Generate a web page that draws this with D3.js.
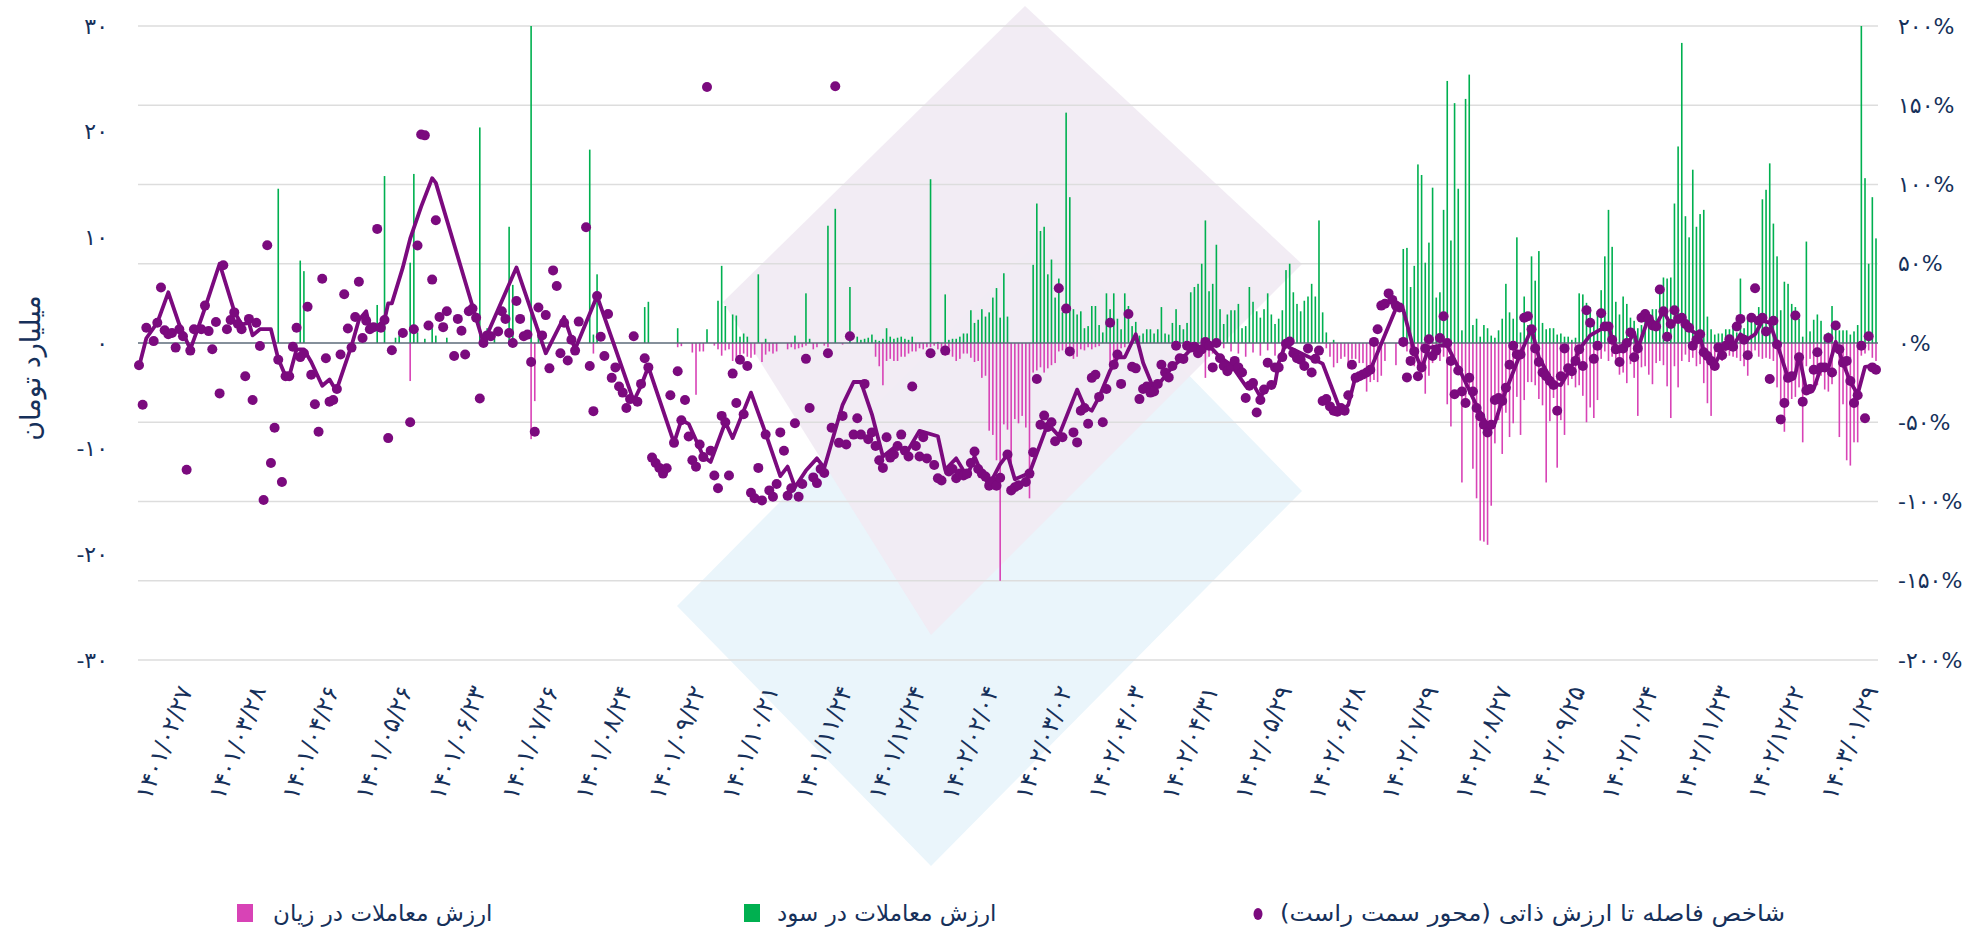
<!DOCTYPE html>
<html><head><meta charset="utf-8">
<script src="https://cdn.jsdelivr.net/npm/d3@7"></script>
<style>
html,body{margin:0;padding:0;background:#fff;}
svg{display:block;font-family:'DejaVu Sans',sans-serif;}
</style></head><body>
<svg id="chart" width="1973" height="928"></svg>
<script>
// ---------- DATA ----------
const xLabels = ["۱۴۰۱/۰۲/۲۷","۱۴۰۱/۰۳/۲۸","۱۴۰۱/۰۴/۲۶","۱۴۰۱/۰۵/۲۶","۱۴۰۱/۰۶/۲۳","۱۴۰۱/۰۷/۲۶","۱۴۰۱/۰۸/۲۴","۱۴۰۱/۰۹/۲۲","۱۴۰۱/۱۰/۲۱","۱۴۰۱/۱۱/۲۴","۱۴۰۱/۱۲/۲۴","۱۴۰۲/۰۲/۰۴","۱۴۰۲/۰۳/۰۲","۱۴۰۲/۰۴/۰۳","۱۴۰۲/۰۴/۳۱","۱۴۰۲/۰۵/۲۹","۱۴۰۲/۰۶/۲۸","۱۴۰۲/۰۷/۲۹","۱۴۰۲/۰۸/۲۷","۱۴۰۲/۰۹/۲۵","۱۴۰۲/۱۰/۲۴","۱۴۰۲/۱۱/۲۳","۱۴۰۲/۱۲/۲۲","۱۴۰۳/۰۱/۲۹"];
const xLabelDays = [13,33,53,73,93,113,133,153,173,193,213,233,253,273,293,313,333,353,373,393,413,433,453,473];
const dayCount = 475;

const leftTicks = [-30,-20,-10,0,10,20,30];
const leftTickLabels = ["-۳۰","-۲۰","-۱۰","۰","۱۰","۲۰","۳۰"];
const rightTicks = [-200,-150,-100,-50,0,50,100,150,200];
const rightTickLabels = ["-۲۰۰%","-۱۵۰%","-۱۰۰%","-۵۰%","۰%","۵۰%","۱۰۰%","۱۵۰%","۲۰۰%"];

const axisTitle = "میلیارد تومان";
const legendLoss = "ارزش معاملات در زیان";
const legendGain = "ارزش معاملات در سود";
const legendIndex = "شاخص فاصله تا ارزش ذاتی (محور سمت راست)";

// profit-side trade value (billion toman), sparse by trading day
const gainDays = [38,44,45,65,67,70,71,74,75,76,78,80,81,84,93,95,97,101,102,107,109,123,124,125,138,139,147,155,
158,159,160,162,163,164,165,166,169,171,179,182,183,188,190,194,196,197,198,199,200,201,202,203,204,205,206,207,208,209,210,211,216,218,220,221,222,223,224,225,226,227,228,229,230,231,232,233,234,
235,236,237,244,245,246,247,248,249,250,251,252,253,254,255,256,257,258,259,260,261,262,263,264,265,266,267,268,269,270,271,272,273,274,275,276,277,278,279,280,281,282,283,284,285,286,287,288,289,290,291,292,293,294,295,296,297,298,299,300,301,302,303,304,305,306,307,308,309,310,311,312,313,314,
315,316,317,318,319,320,321,322,323,324,326,345,346,347,348,349,350,351,352,353,354,355,356,357,358,359,360,361,362,363,364,365,366,367,368,369,370,371,372,373,374,375,376,377,378,379,380,381,382,383,384,385,386,387,388,389,390,391,392,393,
394,395,396,397,398,399,400,401,402,403,404,405,406,407,408,409,410,411,412,413,414,415,416,417,418,419,420,421,422,423,424,425,426,427,428,429,430,431,432,433,434,435,436,437,438,439,440,441,442,443,444,445,446,447,448,449,450,451,452,453,454,455,456,457,458,459,460,461,462,463,464,465,466,467,468,469,470,471,472,473,474];
const gainValues = [14.6,7.8,6.8,3.6,15.8,0.5,0.7,7.6,16,1,0.4,1.4,0.7,0.5,20.4,1.4,0.4,11,5.5,30,1.4,18.3,0.8,6.5,3.4,3.9,1.4,1.3,
4,7.3,3.5,2.7,2.6,0.6,0.9,0.6,6.5,0.4,0.7,4.7,0.4,11.1,12.7,5.3,0.6,0.3,0.4,0.5,0.8,0.3,0.2,0.4,1.4,0.6,0.4,0.5,0.6,0.4,0.3,0.6,15.5,0.1,4.6,0.3,0.4,0.4,0.6,0.9,0.9,3.1,1.9,2.2,3.2,2.5,2.9,4.3,5.2,
2.4,6.6,2.5,7.4,13.2,10.6,11,6.5,7.9,4.3,6.1,2.9,21.8,13.8,3.2,2.7,3,1.4,1.6,3.5,3.5,1.7,1,4.7,3.2,4.7,2.3,1.3,4.7,3.5,1.6,2,0.7,0.9,1.3,1.3,0.9,1.3,3.4,0.9,0.8,1.9,3.2,1.7,1.3,1.9,4.8,5.3,5.6,7.5,11.6,4.9,5.6,9.3,3.2,1.8,2.7,3.1,3.1,3.7,1.4,1.6,5.3,3.9,3,2.4,3.2,4.7,2.7,1.8,2.3,3.1,6.9,7.5,
4.8,3.7,3,4,4.4,5.6,4.4,11.6,2.9,1,0.3,8.9,9,5.3,7.3,16.9,15.9,7.6,9.5,14.7,4.3,4.8,12.6,24.8,9.7,22.7,14.6,1.2,23.1,25.4,1.7,2.3,0.6,1.7,1.4,0.7,0.5,1.2,2.3,5.6,2.9,2.3,10,1,4.4,1.7,8.2,5.9,8.7,1.9,1.3,1.4,1.4,0.8,0.9,0.6,0.6,0.3,0.5,4.7,
4.6,3.8,3.4,1.7,3,5,8.2,12.6,9.1,3.9,2.7,4.4,3.7,2.4,2.1,1.4,1.7,2.5,2.9,3.2,3.2,4.8,6.2,6.1,6.2,13.2,18.6,28.4,12,10,16.4,11,12.2,12.6,2.5,1.3,0.8,0.9,0.9,1.3,1.3,1.6,1,6.1,1.4,2.4,2,2.1,3.4,13.6,14.5,17,11.3,8.2,3.1,5.8,5.6,3.7,3.4,2.3,0.6,9.6,1.1,2.2,2.7,2.1,0.8,1,3.5,1.3,1.2,1.2,1.2,0.8,1.1,1.7,30,15.6,7.5,13.8,9.9];

// loss-side trade value (billion toman, magnitude), sparse by trading day
const lossDays = [74,107,108,124,147,148,151,152,153,154,
157,158,159,160,161,162,163,164,165,166,167,168,170,171,172,173,174,177,178,179,180,181,182,184,185,187,188,192,201,202,203,204,205,206,207,208,209,210,211,212,213,214,215,216,217,218,219,220,221,222,223,224,225,226,227,228,229,230,231,232,233,234,
235,236,237,238,239,240,241,242,243,244,245,246,247,248,249,250,251,252,253,254,255,256,257,258,259,260,261,262,265,266,267,268,269,288,289,291,292,293,296,298,300,302,304,306,308,310,312,314,
324,325,326,327,328,329,330,331,332,333,334,335,336,337,338,339,340,343,345,346,347,348,349,350,351,352,353,354,355,356,357,358,359,360,361,362,363,364,365,366,367,368,369,370,371,372,373,374,375,376,377,378,379,380,381,382,383,384,385,386,387,388,389,390,391,392,393,
394,395,396,397,398,399,400,401,402,403,404,405,406,407,408,409,410,411,412,413,414,415,416,417,418,419,420,421,422,423,424,425,426,427,428,429,430,431,432,433,434,435,436,437,438,439,440,441,442,443,444,445,446,447,448,449,450,451,452,453,454,455,456,457,458,459,460,461,462,463,464,465,466,467,468,469,470,471,472,473,474];
const lossValues = [3.6,9.1,5.5,1,0.4,0.3,0.9,4.9,0.8,0.8,
0.25,0.6,1.2,0.7,0.6,1.7,1.3,1.1,1,1.3,1.4,1.1,1.8,1.1,0.8,1,0.8,0.6,0.4,0.6,0.5,0.4,0.25,0.6,0.4,0.25,0.4,0.15,1.3,2.2,4,1.7,1.5,1.7,1.7,1.3,1.3,1,0.8,0.8,0.5,0.6,0.4,0.4,0.25,0.6,0.8,1.2,1.1,1.3,1.7,1.5,1,1,1.4,1.8,1.7,3.3,3.1,8.3,8.7,11.1,
22.5,7.7,8.2,11.6,7.2,7.6,6.9,8,14.7,2.8,2.6,2.3,2.8,2.4,2.1,1.9,0.8,0.7,0.6,0.8,1.5,1.3,0.6,0.7,0.4,0.6,0.4,0.3,2.1,1.7,1.1,0.5,0.4,1.1,1,3.3,1.3,1,0.5,0.8,1,1.3,0.9,1.2,0.7,1.2,0.8,0.5,
0.5,1.3,2.3,1.9,1.5,1.3,2.4,1.5,1.5,1.9,1.9,4.6,3.7,3.5,3.7,3.1,1.7,2.1,0.4,0.8,1,2.2,2.4,2.8,4.8,3.1,1.9,1.3,1.7,1.3,5.8,7.9,1.3,2.1,13.2,5.8,4.9,11.9,14.7,18.7,18.8,19.1,15.4,9.5,7.3,10.5,6.6,8.9,7.6,5.1,8.7,5.4,3.7,3.7,4,5.3,5.9,13.2,7.4,5.2,11.8,7.3,8.7,4,3.4,4.2,4,
5,7.5,6.1,7.1,5.4,1.5,0.8,1.7,1.3,1.5,3,2.8,3.8,2,3.3,6.9,2.3,2.2,3,3.9,1.9,1.7,2.1,4.1,7.1,2.2,4.2,1.7,1.1,1.8,1.4,2.2,2,3.8,5.7,6.9,2.2,1.5,1.7,0.8,1.2,1.3,1.4,1.7,2.2,3.1,1,0.7,1.3,1.5,1.4,1.5,1.7,4.2,5.5,8.4,5.9,5.3,5.1,4.2,9.4,2.2,1.5,4,4,3.1,4.4,4.6,3.9,0.8,8.9,5.8,11.1,11.6,9.4,9.4,1.2,1,0.7,1.4,1.7];

// distance-to-intrinsic-value index (%), one value per trading day (null = not read)
const indexValues = [
-14,-39,9.6,null,1.2,12.8,35,8,5.5,6.3,-2.9,8.7,4.3,-80,-4.8,8.7,null,8.7,23.6,7.5,
-3.9,13.3,-31.8,49,8.7,14.5,19.3,12,8.7,-21,15.2,-36,12.8,-1.9,-99,61.7,-75.7,-53.5,-10.6,-87.7,
-21,-21,-2.4,9.6,-8.9,-6.5,22.9,-20,-38.6,-56,40.5,-9.6,-37,-36,-29,-7.2,30.8,9.2,-2.9,16.4,
38.6,3.1,14,8.7,10,72,9.6,14.5,-60,-4.6,null,null,6.3,null,-50,8.7,61.5,131.6,131,11,
40,77.4,16.4,10,20,null,-8.2,15.2,7.7,-7.2,20,21.7,15.9,-35,0,4.8,4.3,null,7.2,20,
15.2,6.3,0,26.5,15.2,4.3,5.3,-12,-56,22.4,4.8,17.6,-16,45.8,36,-6.5,12.8,-11,2,-4.8,
13.5,null,73,-14.5,-43,29.6,3.9,-8.2,18.3,-22,-15.4,-27.5,-31.3,-41,-35.4,4.3,-37,-25.8,-9.6,-15.4,
-72.3,-75.7,-78.8,-82.4,-79,-33,-63,-17.8,-48.7,-36,-59,-74,-78,-64,-72,161.5,-68,-83.6,-91.6,-46,
-50,-83.6,-19.3,-37.8,-10.6,-45,-14.5,-94.5,-98,-78.8,-99.3,-57.8,-93,-97,-89,-56.4,-68,-96.4,-91.6,-50.6,
-97,-89,-10,-41,-84.8,-88.4,-79.5,-82,-6.5,-53.5,162,-63,-46,-64,4.3,-57.8,-47.5,-57.8,-25.8,-60.7,
-56.4,-65,-74,-78.8,-59.5,-72.3,-70.4,-65,-57.8,-68,-71.6,-27.5,-65,-71.6,-59.5,-72.8,-6.5,-77,-85.3,-86.8,
-4.8,-81,-79.5,-85.3,-82.4,-83.6,-82.4,-75.7,-68.4,-79.5,-82.4,-84.3,-90,-87.2,-90,-85,null,-70.4,-93,-91,
-89.7,null,-87.7,-82.4,-69,-22.7,-51.6,-45.8,-53,-50,-62,34.5,-59.5,21.7,-5.3,-56.4,-62.7,-42.7,-41,-51,
-22,-20,-34,-50,-29,12.8,-13.7,-7.2,-25.8,null,18.3,-15,-16,-35.4,-29,-27.5,-31.3,-30.6,-25.8,-13.7,
-18.6,-21.7,-14.5,-1.7,-9.6,-10.1,-1.7,-2.9,-2.4,-6.5,-4,0.7,-1.7,-15.4,0,-9.6,-14.5,-17.8,-15,-11.3,
-15.4,-18.6,-34.7,-27,-25.3,-43.9,-36,-29.4,-12.5,-26.5,-15.4,-15.4,-8.9,-0.5,1,-6.5,-9.6,-10.6,-14.5,-3.4,
-18.6,-10,-4.8,-36.6,-35.4,-40,-42.7,-43.4,-41,-42.7,-33,-13.7,-22,-21,-19.8,-18.6,-16.9,0.7,8.7,23.6,
24.8,31.3,27.2,23.6,22.4,0.7,-21.7,-11.3,-5.3,-21,-15.4,-3.4,2.4,-8.2,-4.8,3.1,16.9,0,-11.3,-32.3,
-17.4,-30.6,-37.8,-22,-30.6,-41,-46.3,-51.6,-56.4,-51.6,-36,-34.7,-36.6,-28.2,-13.7,-1.7,-7.2,-7.2,15.9,16.9,
8.7,-3.4,-12,-18.6,-21,-24,-26.5,-42.7,-21,-3.4,-16,-17.8,-11.3,-4,-14.5,20.7,12.8,-10,-1.7,18.8,
10.4,10.4,2,-4,-12,-3.4,0,6.7,-9,-3.4,15.9,18.3,15.2,11,10.4,33.7,20,3.9,12,20.7,
15.2,15.9,12,9.6,-1.7,2,5.5,-5.8,-8.2,-11.3,-14.5,-2.9,-7.7,-1.7,2.4,-2.4,10.4,15.2,2,-7.7,
15.9,34.5,14,15.9,7.2,-22.7,14,-1,-48.2,-37.8,-22,-21,17.4,-9,-37,-30,-29,-16.9,-5.8,-15.4,
-15.4,3.1,-18.6,11,-4,-12.5,-11.3,-24,-37.8,-33,-1.7,-47.5,4.3,-15.4,-16.9];

// companion line (%), vertices by trading day
const lineDays = [0,2,5,8,11,14,16,18,22,26,28,30,31,33,36,38,40,41,43,45,47,50,52,53,54,58,60,62,63,65,67,68,69,72,74,77,80,81,94,103,111,116,119,125,135,137,139,146,148,150,154,156,160,162,167,171,175,177,179,182,185,187,192,195,197,200,203,206,210,213,218,220,223,226,228,230,232,235,237,239,243,248,251,256,258,260,262,265,267,269,272,274,277,280,282,285,287,291,293,295,298,302,304,306,308,310,311,313,314,323,328,330,332,336,343,345,348,350,352,355,357,361,365,368,370,372,377,380,382,386,388,390,392,393,396,399,401,402,404,406,408,409,412,414,416,418,421,423,426,427,430,432,435,437,439,441,443,445,447,450,452,453,455,457,459,461,463,465,467,469,471,473,474];
const lineValues = [-15,3,12.8,32,11.6,-4,8.7,22,50,20,11.6,12.8,4.8,8.7,8.7,-10,-21,-21,-4,-4,-12,-27,-23,-27,-29,-1.7,14.5,20,9.6,10.4,14.5,25,25,47.7,65.8,86,104,101,0,47.7,-6.5,16.4,-4,29.6,-36.6,-27,-15,-63,-48.7,-51,-71.6,-75,-50,-60,-31.3,-57,-84,-78,-91,-80.5,-72.8,-78.8,-39,-24.6,-24.6,-45,-71.6,-66,-67,-55.4,-58.8,-80,-72.8,-84.3,-71.6,-82.4,-89.7,-76.4,-70.4,-86,-82,-51,-58.6,-29.4,-40,-42.7,-34,-17.4,-9,-9,5.5,-12.5,-29.4,-21,-15,-9,-4,-1.7,-4,-9,-13.7,-27,-25.8,-34,-28,-25.8,-12.5,0,-3,-13,-43.4,-39,-21,-17,21.7,21,-5.3,-16,-3,-1.7,-1.7,-20,-39.5,-52,-50.6,-36,-6.5,8.7,-9,-25.8,-26.5,-18.6,-10,-4,4.8,8.7,11,2,-5.3,-1.7,6.7,-3.4,16.4,11.6,20,11.6,16.4,8.7,4.3,-5.3,-13.7,-4,-1.7,5.5,2.4,5.5,14,12.8,-0.5,-22,-20,-7.7,-30,-29,-15.4,-16,0.7,-12.5,-24.6,-32.3,-15,-14.5,-16];

// ---------- DRAW ----------
const textColor = "#16305a";
const gainColor = "#00b050";
const lossColor = "#d843b6";
const indexColor = "#7b0a7e";

const svg = d3.select("#chart");

const x = d3.scaleLinear().domain([0, dayCount - 1]).range([139, 1876]);
const yL = d3.scaleLinear().domain([-30, 30]).range([660, 26]);
const yR = d3.scaleLinear().domain([-200, 200]).range([660, 26]);

// background watermark shapes
const bgBlue = [[677,606],[1048,231],[1302,491],[931,866]];
const bgPurple = [[1025,6],[1302,264],[931,635],[723,302]];
svg.append("polygon").attr("points", bgBlue.map(p => p.join(",")).join(" ")).attr("fill", "#eaf5fb");
svg.append("polygon").attr("points", bgPurple.map(p => p.join(",")).join(" ")).attr("fill", "#f1eaf3").attr("fill-opacity", 0.92);

// gridlines (right axis ticks)
svg.append("g").selectAll("line").data(rightTicks.filter(t => t !== 0)).join("line")
  .attr("x1", 138).attr("x2", 1878)
  .attr("y1", d => yR(d)).attr("y2", d => yR(d))
  .attr("stroke", "#dddddd").attr("stroke-width", 1.6);

// bars
svg.append("g").selectAll("rect").data(gainDays).join("rect")
  .attr("x", d => x(d) - 0.8).attr("width", 1.6)
  .attr("y", (d, i) => yL(gainValues[i])).attr("height", (d, i) => yL(0) - yL(gainValues[i]))
  .attr("fill", gainColor);
svg.append("g").selectAll("rect").data(lossDays).join("rect")
  .attr("x", d => x(d) - 0.8).attr("width", 1.6)
  .attr("y", yL(0)).attr("height", (d, i) => yL(-lossValues[i]) - yL(0))
  .attr("fill", lossColor);

// zero line
svg.append("line").attr("x1", 138).attr("x2", 1878).attr("y1", yR(0)).attr("y2", yR(0))
  .attr("stroke", "#5c6b7a").attr("stroke-width", 1.6);

// line
const lineGen = d3.line().x(d => x(d[0])).y(d => yR(d[1]));
svg.append("path").datum(lineDays.map((d, i) => [d, lineValues[i]]))
  .attr("d", lineGen).attr("fill", "none").attr("stroke", indexColor)
  .attr("stroke-width", 3.8).attr("stroke-linejoin", "round").attr("stroke-linecap", "round");

// dots
svg.append("g").selectAll("circle")
  .data(indexValues.map((v, i) => [i, v]).filter(d => d[1] !== null)).join("circle")
  .attr("cx", d => x(d[0])).attr("cy", d => yR(d[1])).attr("r", 5)
  .attr("fill", indexColor);

// axes
const gl = svg.append("g").attr("transform", "translate(108,0)")
  .call(d3.axisLeft(yL).tickValues(leftTicks).tickFormat((d, i) => leftTickLabels[i]).tickSize(0).tickPadding(0));
gl.select(".domain").remove();
gl.selectAll("text").attr("fill", textColor).attr("font-size", 22).attr("font-family", "DejaVu Sans");

const gr = svg.append("g").attr("transform", "translate(1898,0)")
  .call(d3.axisRight(yR).tickValues(rightTicks).tickFormat((d, i) => rightTickLabels[i]).tickSize(0).tickPadding(0));
gr.select(".domain").remove();
gr.selectAll("text").attr("fill", textColor).attr("font-size", 22).attr("font-family", "DejaVu Sans");

const gx = svg.append("g").attr("transform", "translate(0,690)")
  .call(d3.axisBottom(x).tickValues(xLabelDays).tickFormat((d, i) => xLabels[i]).tickSize(0).tickPadding(0));
gx.select(".domain").remove();
gx.selectAll("text").attr("x", 0).attr("y", 0).attr("dy", 0)
  .attr("text-anchor", "end").attr("transform", "translate(6,0) rotate(-69)")
  .attr("fill", textColor).attr("font-size", 24).attr("font-family", "DejaVu Sans");

// axis title
svg.append("text").attr("transform", "translate(30,368) rotate(-90)")
  .attr("text-anchor", "middle").attr("dominant-baseline", "central")
  .attr("fill", textColor).attr("font-size", 27).text(axisTitle);

// legend
const lg = svg.append("g");
lg.append("rect").attr("x", 237).attr("y", 904).attr("width", 16).attr("height", 18).attr("fill", lossColor);
lg.append("text").attr("x", 273).attr("y", 913).attr("direction", "rtl").attr("text-anchor", "end")
  .attr("dominant-baseline", "central").attr("fill", textColor).attr("font-size", 23).text(legendLoss);
lg.append("rect").attr("x", 744).attr("y", 904).attr("width", 16).attr("height", 18).attr("fill", gainColor);
lg.append("text").attr("x", 777).attr("y", 913).attr("direction", "rtl").attr("text-anchor", "end")
  .attr("dominant-baseline", "central").attr("fill", textColor).attr("font-size", 23).text(legendGain);
lg.append("ellipse").attr("cx", 1258).attr("cy", 914).attr("rx", 4.5).attr("ry", 6).attr("fill", indexColor);
lg.append("text").attr("x", 1280).attr("y", 913).attr("direction", "rtl").attr("text-anchor", "end")
  .attr("dominant-baseline", "central").attr("fill", textColor).attr("font-size", 23)
  .attr("textLength", 505).attr("lengthAdjust", "spacingAndGlyphs").text(legendIndex);
</script>
</body></html>
